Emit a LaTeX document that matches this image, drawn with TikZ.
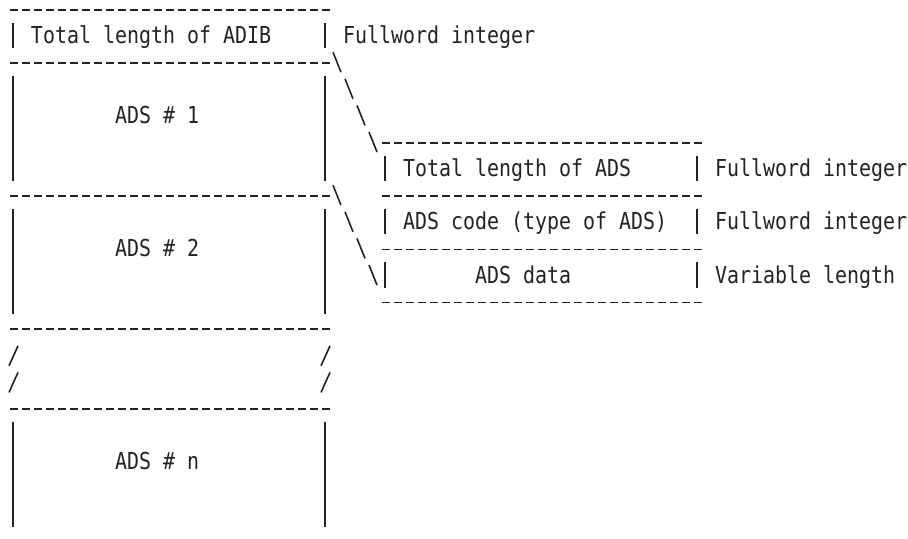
\documentclass[tikz,border=0pt]{standalone}
\usepackage{fontspec}
\newfontfamily\asciimono[FakeStretch=0.855]{DejaVu Sans Mono}
\definecolor{ink}{RGB}{35,35,35}
\newcommand\DashRow[3]{\draw[asciiline,dash pattern=on 6pt off 3pt] ({9.5+12*#2},{10+26.6*(#1-1)}) -- ({17.5+12*#3},{10+26.6*(#1-1)});}
\newcommand\BarAt[3]{\draw[asciiline] ({13+12*#1},{10+26.6*(#2-1)-14}) -- ({13+12*#1},{10+26.6*(#3-1)+11.5});}
\newcommand\BSlash[2]{\draw[asciiline] ({9+12*#1},{-1+26.6*(#2-1)}) -- ({17+12*#1},{19+26.6*(#2-1)});}
\newcommand\FSlash[2]{\draw[asciiline] ({18+12*#1},{0+26.6*(#2-1)}) -- ({9+12*#1},{20+26.6*(#2-1)});}
\newcommand\Txt[4]{\node[txt] (#1) at ({7+12*#3},{17+26.6*(#2-1)}) {#4};}
\begin{document}
\begin{tikzpicture}[x=0.75pt,y=-0.75pt,
  asciiline/.style={draw=ink,line width=1.2pt,line cap=butt},
  txt/.style={anchor=base west,inner sep=0pt,outer sep=0pt,text=ink,font=\asciimono\fontsize{17.5pt}{20pt}\selectfont}]
\useasboundingbox[fill=white] (0,0) rectangle (908,539);
% horizontal dash rows
\DashRow{1}{0}{26}
\DashRow{3}{0}{26}
\DashRow{6}{31}{57}
\DashRow{8}{0}{26}
\DashRow{8}{31}{57}
\DashRow{10}{31}{57}
\DashRow{12}{31}{57}
\DashRow{13}{0}{26}
\DashRow{16}{0}{26}
% vertical bars, left column
\BarAt{0}{2}{2}  \BarAt{26}{2}{2}
\BarAt{0}{4}{7}  \BarAt{26}{4}{7}
\BarAt{0}{9}{12} \BarAt{26}{9}{12}
\BarAt{0}{17}{20} \BarAt{26}{17}{20}
% vertical bars, ADS detail
\BarAt{31}{7}{7}  \BarAt{57}{7}{7}
\BarAt{31}{9}{9}  \BarAt{57}{9}{9}
\BarAt{31}{11}{11} \BarAt{57}{11}{11}
% backslashes (expansion lines)
\BSlash{27}{3} \BSlash{28}{4} \BSlash{29}{5} \BSlash{30}{6}
\BSlash{27}{8} \BSlash{28}{9} \BSlash{29}{10} \BSlash{30}{11}
% slashes (break)
\FSlash{0}{14} \FSlash{26}{14}
\FSlash{0}{15} \FSlash{26}{15}
% texts
\Txt{adib}{2}{2}{Total length of ADIB}
\Txt{adibfmt}{2}{28}{Fullword integer}
\Txt{ads1}{5}{9}{ADS \# 1}
\Txt{ads2}{10}{9}{ADS \# 2}
\Txt{adsn}{18}{9}{ADS \# n}
\Txt{adslen}{7}{33}{Total length of ADS}
\Txt{adslenfmt}{7}{59}{Fullword integer}
\Txt{adscode}{9}{33}{ADS code (type of ADS)}
\Txt{adscodefmt}{9}{59}{Fullword integer}
\Txt{adsdata}{11}{39}{ADS data}
\Txt{adsdatafmt}{11}{59}{Variable length}
\end{tikzpicture}
\end{document}
